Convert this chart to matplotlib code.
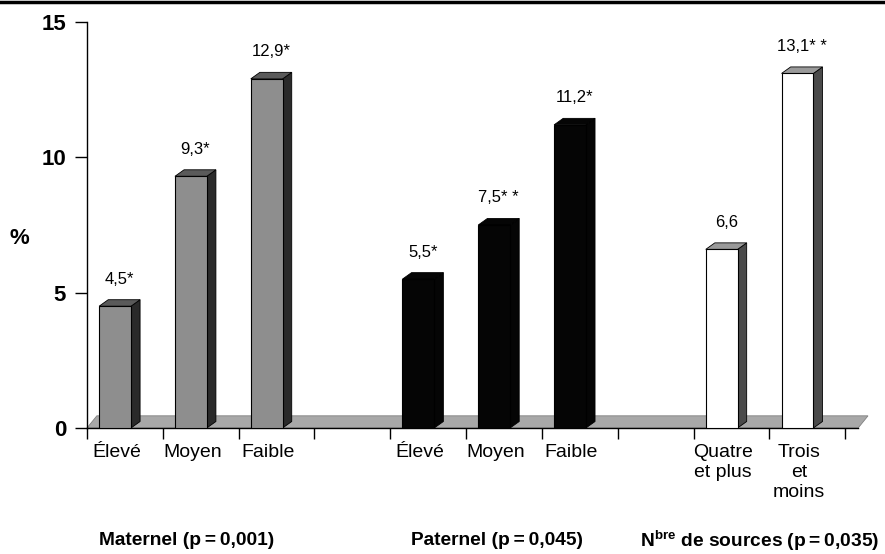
import matplotlib
matplotlib.use('Agg')
import matplotlib.pyplot as plt
from matplotlib.patches import Polygon
from matplotlib.lines import Line2D

plt.rcParams['font.family'] = ['Liberation Sans', 'DejaVu Sans']

# data
slots = [0, 1, 2, 4, 5, 6, 8, 9]
values = [4.5, 9.3, 12.9, 5.5, 7.5, 11.2, 6.6, 13.1]
value_labels = ['4,5*', '9,3*', '12,9*', '5,5*', '7,5* *', '11,2*', '6,6', '13,1* *']
categories = ['Élevé', 'Moyen', 'Faible', 'Élevé', 'Moyen', 'Faible',
              'Quatre\net plus', 'Trois\net\nmoins']
groups = ['Maternel (p\u2009=\u20090,001)', 'Paternel (p\u2009=\u20090,045)',
          'N$^{\\mathregular{bre}}$ de sources (p\u2009=\u20090,035)']
group_x = [1.32, 5.41, 8.87]
# front / side / top colours per group
front_c = ['#8e8e8e'] * 3 + ['#050505'] * 3 + ['white'] * 2
side_c = ['#2a2a2a'] * 3 + ['#050505'] * 3 + ['#4a4a4a'] * 2
top_c = ['#5a5a5a'] * 3 + ['#050505'] * 3 + ['#9a9a9a'] * 2

fig = plt.figure(figsize=(8.85, 5.54), dpi=100)
ax = fig.add_axes([87 / 885, 126 / 554, 781 / 885, 406 / 554])
ax.set_xlim(0, 10.3)
ax.set_ylim(0, 15)

w = 0.42      # front width
off = 0.16    # offset in slot
dx = 0.12     # depth
dy = 0.24

# floor
floor = Polygon([(0, 0), (10.17, 0), (10.3, 0.45), (0.13, 0.45)],
                closed=True, facecolor='#a8a8a8', edgecolor='#808080',
                lw=0.6, zorder=1, clip_on=False)
ax.add_patch(floor)

for i, s in enumerate(slots):
    x0 = s + off
    v = values[i]
    ax.bar(x0, v, width=w, align='edge', color=front_c[i],
           edgecolor='black', linewidth=0.8, zorder=3)
    side = Polygon([(x0 + w, 0), (x0 + w + dx, dy), (x0 + w + dx, v + dy), (x0 + w, v)],
                   closed=True, facecolor=side_c[i], edgecolor='black', lw=0.6,
                   zorder=2.5, clip_on=False)
    top = Polygon([(x0, v), (x0 + dx, v + dy), (x0 + w + dx, v + dy), (x0 + w, v)],
                  closed=True, facecolor=top_c[i], edgecolor='black', lw=0.6,
                  zorder=2.5, clip_on=False)
    ax.add_patch(side)
    ax.add_patch(top)
    ax.text(x0 + w / 2 + dx / 2, v + 1.0, value_labels[i], ha='center', va='center',
            fontsize=12)
    ax.text(x0 + w / 2 + 0.02, -0.58, categories[i], ha='center', va='top',
            fontsize=14, linespacing=1.25)

for gx, g in zip(group_x, groups):
    ax.text(gx, -4.17, g, ha='center', va='center', fontsize=13.8,
            fontweight='bold')

ax.spines['top'].set_visible(False)
ax.spines['right'].set_visible(False)
ax.spines['bottom'].set_bounds(0, 10.17)
ax.spines['left'].set_linewidth(1.0)
ax.spines['bottom'].set_linewidth(1.0)

ax.set_yticks([0, 5, 10, 15])
ax.set_yticklabels(['0', '5', '10', '15'], fontsize=16, fontweight='bold')
ax.set_xticks(range(0, 11))
ax.set_xticklabels([])
ax.tick_params(axis='y', length=9, width=1.0, pad=6)
ax.tick_params(axis='x', length=8, width=1.0)

fig.text(19 / 885, 1 - 238 / 554, '%', ha='center', va='center',
         fontsize=16, fontweight='bold')

fig.add_artist(Line2D([0, 1], [0.997, 0.997], color='black', lw=2.5,
                      transform=fig.transFigure))

fig.savefig('out.png', dpi=100)
